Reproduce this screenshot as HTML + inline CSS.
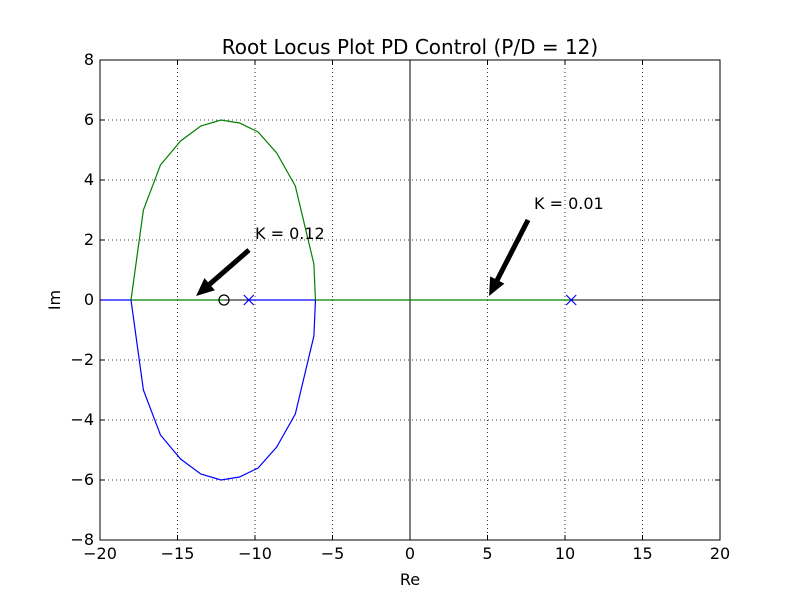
<!DOCTYPE html>
<html><head><meta charset="utf-8"><style>body{margin:0;background:#fff}svg{display:block;font-family:"DejaVu Sans","Liberation Sans",sans-serif}</style></head>
<body>
<svg id="chart" width="800" height="600" viewBox="0 0 800 600">
<rect width="800" height="600" fill="#fff"/>
<g id="grid"></g>
<g id="ticks"></g>
<g id="series"></g>
<rect x="100" y="60" width="620" height="480" fill="none" stroke="#000" stroke-width="1"/>
<text x="410" y="54" font-size="20" text-anchor="middle">Root Locus Plot PD Control (P/D = 12)</text>
<text x="410" y="585" font-size="16" text-anchor="middle">Re</text>
<text x="60" y="300" font-size="16" text-anchor="middle" transform="rotate(-90 60 300)">Im</text>
<g id="annot"></g>
</svg>
<script>
const xTicks=[-20,-15,-10,-5,0,5,10,15,20];
const yTicks=[-8,-6,-4,-2,0,2,4,6,8];
const upperRe=[-18.0,-17.2,-16.1,-14.8,-13.5,-12.2,-11.0,-9.8,-8.6,-7.4,-6.2,-6.1];
const upperIm=[0,3.0,4.5,5.3,5.8,6.0,5.9,5.6,4.9,3.8,1.2,0];
const poles=[-10.4,10.4];
const zeros=[-12];
const annotations=[{text:"K = 0.12",tx:-10.0,ty:2.0,ax:-13.8,ay:0.0},{text:"K = 0.01",tx:8.0,ty:3.0,ax:5.1,ay:0.0}];
const X=v=>410+v*15.5, Y=v=>300-v*30;
const NS="http://www.w3.org/2000/svg";
function mk(t,a,p){const e=document.createElementNS(NS,t);for(const k in a)e.setAttribute(k,a[k]);p.appendChild(e);return e;}
const grid=document.getElementById('grid'),ticks=document.getElementById('ticks'),series=document.getElementById('series'),annot=document.getElementById('annot');
xTicks.forEach(v=>{
 const g=mk('line',{x1:X(v),x2:X(v),y1:60,y2:540,stroke:'#000','stroke-dasharray':'1,3','stroke-width':0.8},grid);
 
 
 mk('line',{x1:X(v),x2:X(v),y1:540,y2:535,stroke:'#000'},ticks);
 mk('line',{x1:X(v),x2:X(v),y1:60,y2:65,stroke:'#000'},ticks);
 const t=mk('text',{x:X(v),y:559,'font-size':16,'text-anchor':'middle'},ticks);
 t.textContent=(v<0?'\u2212'+(-v):v);
 
 
});
yTicks.forEach(v=>{
 const g=mk('line',{x1:100,x2:720,y1:Y(v),y2:Y(v),stroke:'#000','stroke-dasharray':'1,3','stroke-width':0.8},grid);
 
 
 mk('line',{x1:100,x2:105,y1:Y(v),y2:Y(v),stroke:'#000'},ticks);
 mk('line',{x1:715,x2:720,y1:Y(v),y2:Y(v),stroke:'#000'},ticks);
 const t=mk('text',{x:94,y:Y(v)+5,'font-size':16,'text-anchor':'end'},ticks);
 t.textContent=(v<0?'\u2212'+(-v):v);
 
 
});
mk('line',{x1:100,x2:720,y1:Y(0),y2:Y(0),stroke:'#000'},series);
mk('line',{x1:X(0),x2:X(0),y1:60,y2:540,stroke:'#000'},series);
function seg(a,b,c,n){const l=mk('line',{x1:X(a),x2:X(b),y1:Y(0),y2:Y(0),stroke:c,'stroke-width':1.2},series);}
seg(-20,upperRe[0],'#0000ff','blue-real-axis-left');
seg(upperRe[0],zeros[0],'#008000','green-real-axis-left');
seg(poles[0],upperRe[upperRe.length-1],'#0000ff','blue-real-axis-mid');
seg(upperRe[upperRe.length-1],poles[1],'#008000','green-real-axis-right');
const up=upperRe.map((r,i)=>X(r)+','+Y(upperIm[i])).join(' ');
const lo=upperRe.map((r,i)=>X(r)+','+Y(-upperIm[i])).join(' ');
const g1=mk('polyline',{points:up,fill:'none',stroke:'#008000','stroke-width':1.2},series);


const b1=mk('polyline',{points:lo,fill:'none',stroke:'#0000ff','stroke-width':1.2},series);


poles.forEach(p=>{
 const g=mk('path',{d:`M${X(p)-5},${Y(0)-5}L${X(p)+5},${Y(0)+5}M${X(p)-5},${Y(0)+5}L${X(p)+5},${Y(0)-5}`,stroke:'#0000ff','stroke-width':1.2,fill:'none'},series);
 
 
});
zeros.forEach(z=>{
 const c=mk('circle',{cx:X(z),cy:Y(0),r:5,fill:'none',stroke:'#000','stroke-width':1.2},series);
 
 
});
annotations.forEach(a=>{
 const t=mk('text',{x:X(a.tx),y:Y(a.ty)-1,'font-size':16},annot);
 t.textContent=a.text;
 
 
 const x0=X(a.tx)-6,y0=Y(a.ty)+10,x1=X(a.ax),y1=Y(a.ay)-4;
 const dx=x1-x0,dy=y1-y0,L=Math.hypot(dx,dy),ux=dx/L,uy=dy/L,nx=-uy,ny=ux;
 const hl=18,hw=8,w=2.5;
 const bx=x1-ux*hl,by=y1-uy*hl;
 const pts=[[x0+nx*w,y0+ny*w],[bx+nx*w,by+ny*w],[bx+nx*hw,by+ny*hw],[x1,y1],[bx-nx*hw,by-ny*hw],[bx-nx*w,by-ny*w],[x0-nx*w,y0-ny*w]];
 const p=mk('polygon',{points:pts.map(q=>q.join(',')).join(' '),fill:'#000'},annot);
 
 
});
</script>
</body></html>
